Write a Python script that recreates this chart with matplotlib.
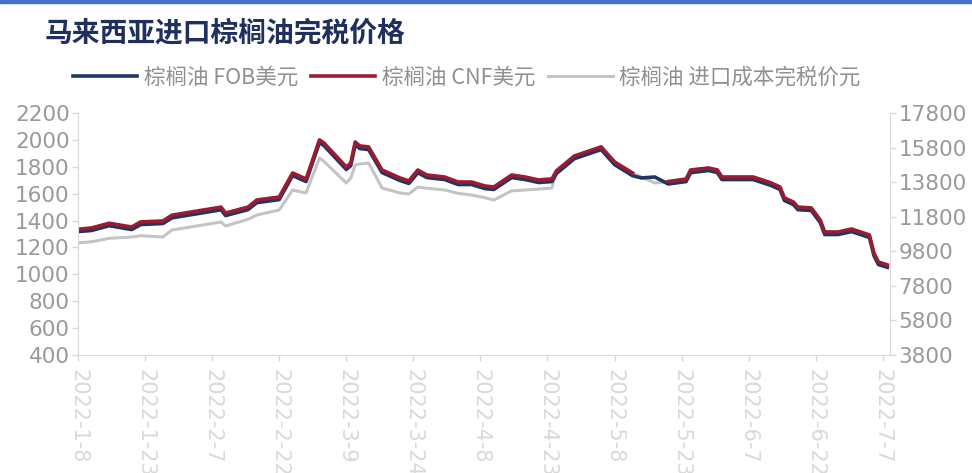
import matplotlib
matplotlib.use("Agg")
import numpy as np
import pandas as pd
import matplotlib.pyplot as plt
from matplotlib.patches import Rectangle

plt.rcParams['font.family'] = ['Noto Sans CJK SC', 'DejaVu Sans']

# 马来西亚棕榈油报价（美元/吨）与进口完税成本（元/吨）
dates = ["2022-01-08", "2022-01-11", "2022-01-15", "2022-01-20", "2022-01-22", "2022-01-27", "2022-01-29",
         "2022-02-09", "2022-02-10", "2022-02-15", "2022-02-17", "2022-02-22", "2022-02-25", "2022-02-28",
         "2022-03-03", "2022-03-04", "2022-03-09", "2022-03-10", "2022-03-11", "2022-03-12", "2022-03-14",
         "2022-03-17", "2022-03-21", "2022-03-23", "2022-03-25", "2022-03-27", "2022-03-31",
         "2022-04-03", "2022-04-06", "2022-04-09", "2022-04-11", "2022-04-15", "2022-04-18", "2022-04-21",
         "2022-04-24", "2022-04-25", "2022-04-29",
         "2022-05-05", "2022-05-08", "2022-05-12", "2022-05-14", "2022-05-17", "2022-05-20", "2022-05-24",
         "2022-05-25", "2022-05-29", "2022-05-31",
         "2022-06-01", "2022-06-08", "2022-06-12", "2022-06-14", "2022-06-15", "2022-06-17", "2022-06-18",
         "2022-06-21", "2022-06-23", "2022-06-24", "2022-06-27", "2022-06-30",
         "2022-07-04", "2022-07-05", "2022-07-06", "2022-07-08"]

cnf_usd = [1335, 1345, 1380, 1352, 1390, 1397, 1440,
           1500, 1456, 1500, 1553, 1575, 1754, 1709,
           2000, 1977, 1799, 1828, 1985, 1955, 1948, 1776, 1717, 1695, 1776, 1739, 1724,
           1687, 1687, 1657, 1650, 1739, 1724, 1702, 1710, 1770, 1880,
           1948, 1836, 1754, np.nan, np.nan, 1690, 1709, 1776, 1791, 1776,
           1724, 1724, 1680, 1650, 1568, 1538, 1500, 1494, 1404, 1315, 1315, 1337,
           1293, 1159, 1092, 1070]

fob_usd = [1318, 1326, 1362, 1333, 1370, 1378, 1420,
           1480, 1437, 1481, 1533, 1556, 1735, 1690,
           1980, 1958, 1780, 1808, 1965, 1936, 1928, 1757, 1698, 1676, 1756, 1720, 1705,
           1668, 1668, 1638, 1631, 1720, 1705, 1683, 1690, 1750, 1860,
           1928, 1816, 1734, 1717, 1724, 1672, 1690, 1756, 1772, 1757,
           1705, 1705, 1661, 1631, 1549, 1519, 1481, 1475, 1385, 1296, 1296, 1318,
           1274, 1140, 1073, 1052]

cost_cny = [10280, 10350, 10550, 10626, 10700, 10626, 11031,
            11494, 11263, 11650, 11899, 12188, 13345, 13172,
            15197, 15000, 13750, 14040, 14790, 14850, 14907, 13461, 13172, 13114, 13519, 13450, 13345,
            13150, 13056, 12900, 12767, 13300, 13345, 13400, 13461, 14456, 15311,
            15840, 14969, 14331, 14100, 13750, 13834, 13982, 14503, 14619, 14503,
            14098, 14098, 13756, 13522, 12885, 12651, 12356, 12309, 11609, 10917, 10917, 11088,
            10746, 9703, 9182, 9011]

tick_dates = ["2022-01-08", "2022-01-23", "2022-02-07", "2022-02-22", "2022-03-09", "2022-03-24",
              "2022-04-08", "2022-04-23", "2022-05-08", "2022-05-23", "2022-06-07", "2022-06-22",
              "2022-07-07"]
tick_labels = ["2022-1-8", "2022-1-23", "2022-2-7", "2022-2-22", "2022-3-9", "2022-3-24",
               "2022-4-8", "2022-4-23", "2022-5-8", "2022-5-23", "2022-6-7", "2022-6-22",
               "2022-7-7"]

x = pd.to_datetime(dates)
navy = '#1f3563'
red = '#9b1b30'
grey = '#c4c4c4'
label_color = '#999999'
spine_color = '#d9d9d9'

fig = plt.figure(figsize=(9.72, 4.73), dpi=100)
ax = fig.add_axes([78 / 972, 1 - 355 / 473, 812 / 972, 242 / 473])
ax2 = ax.twinx()
ax.set_zorder(ax2.get_zorder() + 1)
ax.patch.set_visible(False)

l3, = ax2.plot(x, cost_cny, color=grey, lw=2.2, label='棕榈油 进口成本完税价元')
l1, = ax.plot(x, fob_usd, color=navy, lw=2.6, label='棕榈油 FOB美元')
l2, = ax.plot(x, cnf_usd, color=red, lw=2.6, label='棕榈油 CNF美元')

start = pd.Timestamp("2022-01-08")
ax.set_xlim(start, start + pd.Timedelta(days=181.6))
ax.set_ylim(400, 2200)
ax.set_yticks(range(400, 2201, 200))
ax2.set_ylim(3800, 17800)
ax2.set_yticks(range(3800, 17801, 2000))

ax.set_xticks(pd.to_datetime(tick_dates))
ax.set_xticklabels(tick_labels, rotation=270, fontfamily='DejaVu Sans',
                   fontsize=15, color=label_color, va='top', ha='center')

for a in (ax, ax2):
    a.spines['top'].set_visible(False)
    for s in a.spines.values():
        s.set_color(spine_color)
    a.tick_params(colors=spine_color, length=4, width=1)
    for t in a.get_yticklabels():
        t.set_fontfamily('DejaVu Sans')
        t.set_fontsize(15.5)
        t.set_color(label_color)
ax2.spines['left'].set_visible(False)
ax2.spines['bottom'].set_visible(False)
ax.spines['right'].set_visible(False)
ax.tick_params(axis='x', pad=6)
ax.tick_params(axis='y', pad=2)
ax2.tick_params(axis='y', pad=2)

# 标题与顶部蓝条
fig.patches.append(Rectangle((0, 1 - 3 / 473), 1, 3 / 473, transform=fig.transFigure,
                             color='#4472c4', zorder=5))
fig.text(45 / 972, 1 - 33 / 473, '马来西亚进口棕榈油完税价格', fontsize=20, fontweight='bold',
         color='#1f2f5e', va='center', ha='left')

fig.legend(handles=[l1, l2, l3], loc='center left', bbox_to_anchor=(64 / 972, 1 - 78 / 473),
           ncol=3, frameon=False, fontsize=15.5, handlelength=3.0, handletextpad=0.3,
           columnspacing=0.6, labelcolor='#909090', borderaxespad=0)

fig.savefig('out.png', dpi=100)
